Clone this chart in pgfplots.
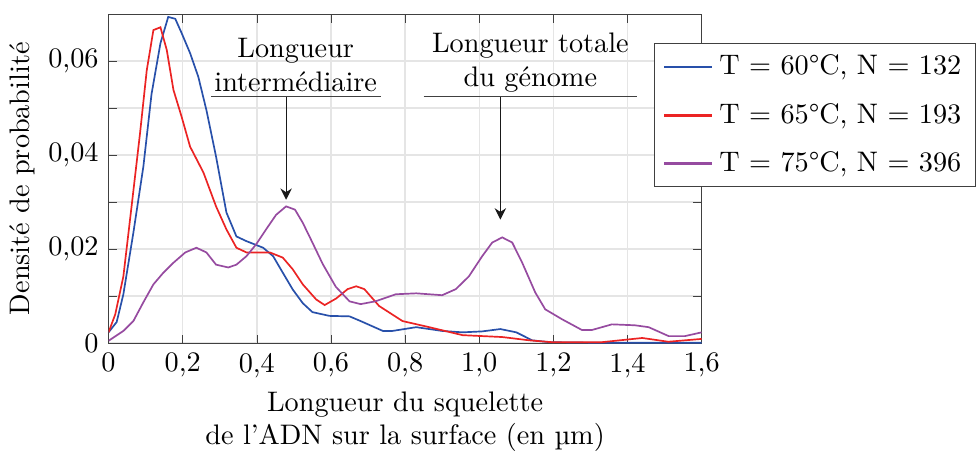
\documentclass[border=0pt]{standalone}
\usepackage{pgfplots}
\pgfplotsset{compat=1.18}
\usetikzlibrary{arrows.meta}

\definecolor{cblue}{RGB}{40,80,170}
\definecolor{cred}{RGB}{235,35,35}
\definecolor{cpurple}{RGB}{150,75,160}

\begin{document}
\begin{tikzpicture}
\begin{axis}[
    width=210pt, height=116.5pt, scale only axis,
    xmin=0, xmax=1.6, ymin=0, ymax=0.07,
    xtick={0,0.2,0.4,0.6,0.8,1.0,1.2,1.4,1.6},
    xticklabels={0,{0,2},{0,4},{0,6},{0,8},{1,0},{1,2},{1,4},{1,6}},
    ytick={0,0.02,0.04,0.06},
    yticklabels={0,{0,02},{0,04},{0,06}},
    scaled y ticks=false,
    minor ytick={0.01,0.03,0.05},
    grid=both,
    grid style={black!10, line width=0.5pt},
    minor grid style={black!10, line width=0.5pt},
    axis line style={black!75},
    tick style={black!75},
    tick align=inside,
    major tick length=3pt, minor tick length=3pt,
    xlabel={Longueur du squelette\\de l'ADN sur la surface (en µm)},
    xlabel style={align=center, yshift=2pt},
    ylabel={Densité de probabilité},
    ylabel style={yshift=-2pt},
    legend style={at={(0.919,0.912)}, anchor=north west, draw=black!75,
        cells={anchor=west}, row sep=4.5pt},
    legend image post style={line width=1pt},
    every axis plot/.append style={line width=0.6pt},
]
\addplot[cblue] coordinates {
(0,0.0023) (0.022,0.0045) (0.04,0.0104) (0.067,0.0235) (0.094,0.0376)
(0.116,0.053) (0.14,0.0638) (0.161,0.0694) (0.18,0.069) (0.197,0.066)
(0.22,0.0617) (0.242,0.0567) (0.264,0.0496) (0.29,0.0397) (0.318,0.0278)
(0.345,0.0227) (0.372,0.0217) (0.417,0.0203) (0.444,0.0185) (0.47,0.015)
(0.497,0.0114) (0.524,0.0085) (0.55,0.0066) (0.596,0.0058) (0.65,0.0057)
(0.68,0.0047) (0.70,0.004) (0.74,0.0026) (0.766,0.0026) (0.83,0.0034)
(0.9,0.0026) (0.955,0.0023) (1.008,0.0025) (1.057,0.003) (1.1,0.0023)
(1.143,0.0006) (1.19,0.0002) (1.3,0.0001) (1.45,0.0001) (1.6,0.0001)
};
\addlegendentry{T $=$ 60°C, N $=$ 132}
\addplot[cred] coordinates {
(0,0.0023) (0.018,0.0061) (0.04,0.0142) (0.062,0.029) (0.085,0.0447)
(0.103,0.058) (0.121,0.0666) (0.14,0.0672) (0.157,0.0624) (0.175,0.0539)
(0.197,0.0482) (0.22,0.0418) (0.256,0.0363) (0.29,0.0291) (0.318,0.0242)
(0.345,0.0203) (0.372,0.0193) (0.435,0.0193) (0.47,0.0182) (0.497,0.0157)
(0.524,0.0125) (0.56,0.0093) (0.583,0.0081) (0.614,0.0095) (0.645,0.0115)
(0.668,0.0121) (0.69,0.0115) (0.73,0.0079) (0.793,0.0047) (0.865,0.0034)
(0.955,0.0017) (1.062,0.0013) (1.135,0.0006) (1.197,0.0002) (1.33,0.0002)
(1.44,0.0011) (1.51,0.0003) (1.6,0.0009)
};
\addlegendentry{T $=$ 65°C, N $=$ 193}
\addplot[cpurple] coordinates {
(0,0.0005) (0.04,0.0026) (0.067,0.0047) (0.094,0.0087) (0.121,0.0125)
(0.148,0.015) (0.175,0.0171) (0.207,0.0193) (0.237,0.0203) (0.264,0.0193)
(0.29,0.0167) (0.323,0.0161) (0.345,0.0167) (0.372,0.0185) (0.398,0.021)
(0.425,0.0242) (0.452,0.0273) (0.479,0.0291) (0.503,0.0284) (0.524,0.0256)
(0.55,0.0214) (0.578,0.0168) (0.613,0.012) (0.65,0.0089) (0.68,0.0083)
(0.72,0.0089) (0.775,0.0104) (0.83,0.0106) (0.9,0.0102) (0.937,0.0115)
(0.972,0.0142) (1.008,0.0185) (1.035,0.0214) (1.062,0.0225) (1.089,0.0214)
(1.116,0.0171) (1.151,0.0108) (1.178,0.0072) (1.223,0.0051) (1.277,0.0028)
(1.304,0.0028) (1.358,0.004) (1.42,0.0038) (1.457,0.0034) (1.511,0.0015)
(1.555,0.0015) (1.6,0.0023)
};
\addlegendentry{T $=$ 75°C, N $=$ 396}

% annotations
\node[anchor=south, align=center, inner sep=1.5pt] at (axis cs:0.505,0.0524)
    {Longueur\\intermédiaire};
\draw[black!75] (axis cs:0.277,0.0524) -- (axis cs:0.734,0.0524);
\draw[black!90, -{Stealth[length=4pt,width=4pt]}] (axis cs:0.479,0.0524) -- (axis cs:0.479,0.0305);
\node[anchor=south, align=center, inner sep=1.5pt] at (axis cs:1.138,0.0524)
    {Longueur totale\\du génome};
\draw[black!75] (axis cs:0.85,0.0524) -- (axis cs:1.425,0.0524);
\draw[black!90, -{Stealth[length=4pt,width=4pt]}] (axis cs:1.057,0.0524) -- (axis cs:1.057,0.0263);
\coordinate (frametop) at (rel axis cs:0,1);
\end{axis}
% small margin above the frame, as in the original
\path (frametop) -- ++(0,5pt);
\end{tikzpicture}
\end{document}
